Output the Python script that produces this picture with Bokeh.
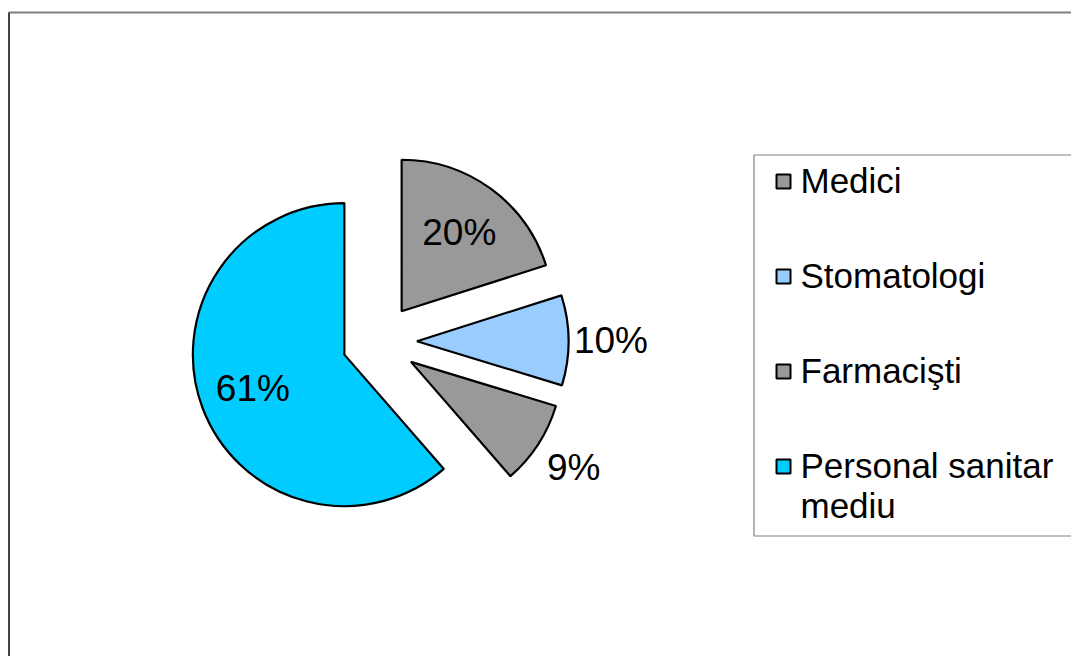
import math
import textwrap
from bokeh.plotting import figure
from bokeh.models import Range1d, ColumnDataSource
from bokeh.core.properties import value
from bokeh.embed import file_html
from bokeh.resources import INLINE

# ---- data ----
categories = ["Medici", "Stomatologi", "Farmacişti", "Personal sanitar mediu"]
shares = [20.1, 9.6, 8.9, 61.4]
colors = ["#999999", "#99CCFF", "#999999", "#00CCFF"]
label_outside = [False, True, True, False]

# ---- layout (pixel-like data units) ----
W, H = 1071, 656


def px(x):
    return x


def py(y):
    return H - y


CX, CY = px(379), py(341)
R = 151.5
EXPLODE = 37.5
FONT = value("Liberation Sans")

p = figure(width=W, height=H, x_range=Range1d(0, W), y_range=Range1d(0, H),
           output_backend="svg", toolbar_location=None, min_border=0,
           x_axis_location=None, y_axis_location=None,
           outline_line_color=None, background_fill_color="white",
           border_fill_color="white")
p.xgrid.visible = False
p.ygrid.visible = False

# chart-area border (top and left visible)
p.segment(x0=[px(8), px(8.5)], y0=[py(12), py(12)], x1=[W, px(8.5)], y1=[py(12), 0],
          line_color=["#808080", "#444444"], line_width=2)

# pie slices
total = float(sum(shares))
xs, ys, starts, ends, lx, ly, labels = [], [], [], [], [], [], []
cum = 0.0
for s, out in zip(shares, label_outside):
    t0 = cum / total * 2 * math.pi
    t1 = (cum + s) / total * 2 * math.pi
    mid = (t0 + t1) / 2
    ox = CX + EXPLODE * math.sin(mid)
    oy = CY + EXPLODE * math.cos(mid)
    xs.append(ox)
    ys.append(oy)
    starts.append(math.pi / 2 - t1)
    ends.append(math.pi / 2 - t0)
    lr = R * (1.28 if out else 0.645)
    lx.append(ox + lr * math.sin(mid))
    ly.append(oy + lr * math.cos(mid))
    labels.append(f"{round(s / total * 100)}%")
    cum += s

src = ColumnDataSource(dict(x=xs, y=ys, start=starts, end=ends, color=colors,
                            lx=lx, ly=ly, label=labels))
p.wedge(x="x", y="y", radius=R, start_angle="start", end_angle="end",
        fill_color="color", line_color="black", line_width=2.2, source=src)
p.text(x="lx", y="ly", text="label", source=src, text_align="center",
       text_baseline="middle", text_font=FONT, text_font_size="37px",
       text_color="black")

# legend box (right side runs past the window)
LX0, LTOP, LBOT = px(753) + 0.5, py(154) - 0.5, py(536) + 0.5
p.line(x=[W + 10, LX0, LX0, W + 10], y=[LTOP, LTOP, LBOT, LBOT],
       line_color="#808080", line_width=1.2)

SQ_X = px(783)
TX = px(800)
MID0 = py(180)
STEP = 95
LINE_H = 40
sq_x, sq_y, t_x, t_y, t_txt = [], [], [], [], []
for i, name in enumerate(categories):
    mid_y = MID0 - i * STEP
    sq_x.append(SQ_X)
    sq_y.append(mid_y - 1)
    for j, line in enumerate(textwrap.wrap(name, 16)):
        t_x.append(TX)
        t_y.append(mid_y - j * LINE_H)
        t_txt.append(line)

p.rect(x=sq_x, y=sq_y, width=14, height=14, fill_color=colors,
       line_color="black", line_width=2)
p.text(x=t_x, y=t_y, text=t_txt, text_align="left", text_baseline="middle",
       text_font=FONT, text_font_size="35px", text_color="black")

open("out.html", "w").write(file_html(p, INLINE))
